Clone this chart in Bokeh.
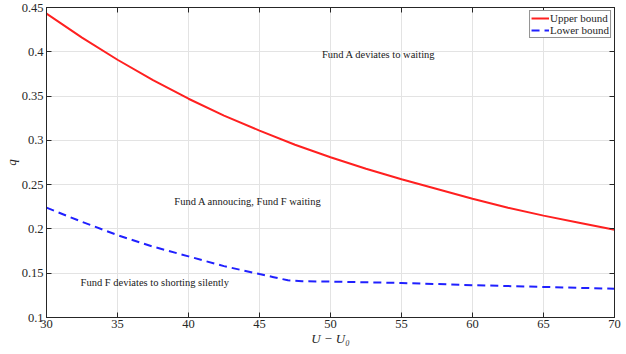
from bokeh.plotting import figure
from bokeh.models import LinearAxis, FixedTicker, Legend, LegendItem, Label
from bokeh.embed import file_html
from bokeh.resources import INLINE

# Data
upper_x = [30, 32.5, 35, 37.5, 40, 42.5, 45, 47.5, 50, 52.5, 55, 57.5, 60, 62.5, 65, 67.5, 70]
upper_q = [0.443, 0.416, 0.391, 0.368, 0.347, 0.328, 0.311, 0.295, 0.281, 0.268, 0.256, 0.245,
           0.234, 0.224, 0.215, 0.207, 0.199]
lower_x = [30, 32.5, 35, 37.5, 40, 42.5, 45, 46, 47, 48, 50, 55, 60, 65, 70]
lower_q = [0.224, 0.208, 0.193, 0.180, 0.169, 0.158, 0.149, 0.1455, 0.142, 0.141, 0.1405,
           0.139, 0.1365, 0.1345, 0.1325]
x_ticks = [30, 35, 40, 45, 50, 55, 60, 65, 70]
y_ticks = [0.1, 0.15, 0.2, 0.25, 0.3, 0.35, 0.4, 0.45]
y_tick_labels = ["0.1", "0.15", "0.2", "0.25", "0.3", "0.35", "0.4", "0.45"]
annotations = [
    (49.4, 0.3975, "Fund A deviates to waiting"),
    (39.0, 0.231, "Fund A annoucing, Fund F waiting"),
    (32.4, 0.139, "Fund F deviates to shorting silently"),
]

FONT = "Liberation Serif"
AX = "#262626"

p = figure(frame_width=568, frame_height=310, x_range=(30, 70), y_range=(0.1, 0.45),
           output_backend="svg", toolbar_location=None,
           min_border_left=0, min_border_right=8, min_border_top=7, min_border_bottom=0)
p.outline_line_color = AX
p.outline_line_width = 1
p.background_fill_color = "white"
p.border_fill_color = "white"

for ax in (p.xaxis[0], p.yaxis[0]):
    ax.major_tick_in = 5
    ax.major_tick_out = 0
    ax.minor_tick_in = 0
    ax.minor_tick_out = 0
    ax.axis_line_color = AX
    ax.major_tick_line_color = AX
    ax.major_label_text_font = FONT
    ax.major_label_text_font_size = "12.5px"
    ax.major_label_text_color = AX
    ax.axis_label_text_font = FONT
    ax.axis_label_text_font_style = "italic"
    ax.axis_label_text_font_size = "13px"
    ax.axis_label_text_color = AX

p.xaxis[0].ticker = FixedTicker(ticks=x_ticks)
p.yaxis[0].ticker = FixedTicker(ticks=y_ticks)
p.yaxis[0].major_label_overrides = {t: l for t, l in zip(y_ticks, y_tick_labels)}
p.xaxis[0].axis_label = "U − U₀"
p.yaxis[0].axis_label = "q"
p.xaxis[0].major_label_standoff = 2
p.xaxis[0].axis_label_standoff = 0
p.yaxis[0].major_label_standoff = 3
p.yaxis[0].axis_label_standoff = 0

for loc in ("above", "right"):
    a = LinearAxis(ticker=FixedTicker(ticks=x_ticks if loc == "above" else y_ticks),
                   major_tick_in=5, major_tick_out=0, minor_tick_in=0, minor_tick_out=0,
                   axis_line_color=AX, major_tick_line_color=AX,
                   major_label_text_font_size="0px", major_label_standoff=0)
    if loc == "above":
        a.major_label_overrides = {t: "" for t in x_ticks}
    else:
        a.major_label_overrides = {t: "" for t in y_ticks}
    p.add_layout(a, loc)

p.grid.grid_line_color = "#e3e3e3"
p.grid.grid_line_width = 1
p.xgrid.ticker = FixedTicker(ticks=x_ticks)
p.ygrid.ticker = FixedTicker(ticks=y_ticks)

r1 = p.line(upper_x, upper_q, line_color="#ff2020", line_width=2)
r2 = p.line(lower_x, lower_q, line_color="#2020ff", line_width=2, line_dash="8 5")

for x, y, t in annotations:
    p.add_layout(Label(x=x, y=y, text=t, text_font=FONT, text_font_size="10.5px",
                       text_color="#202020", text_baseline="middle", text_align="left"))

legend = Legend(items=[LegendItem(label="Upper bound", renderers=[r1]),
                       LegendItem(label="Lower bound", renderers=[r2])],
                location="top_right")
legend.label_text_font = FONT
legend.label_text_font_size = "11px"
legend.label_text_color = AX
legend.border_line_color = AX
legend.border_line_width = 1
legend.margin = 3
legend.padding = 1
legend.spacing = 0
legend.label_height = 12
legend.label_standoff = 1
legend.glyph_width = 18
legend.glyph_height = 12
legend.background_fill_alpha = 1
p.add_layout(legend)

open("out.html", "w").write(file_html(p, INLINE))
